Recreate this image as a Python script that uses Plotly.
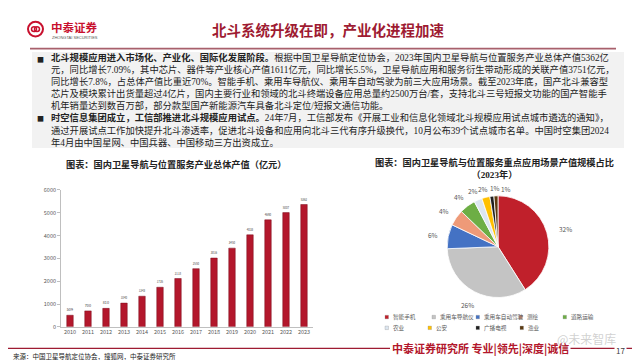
import math
import plotly.graph_objects as go

W, H = 640, 360
def px(x): return x / W
def py(y): return 1 - y / H

FONT = "Noto Sans CJK SC"
BODY_FONT = "Liberation Serif, Noto Sans CJK SC"

# ---------------- data ----------------
years = ["2010", "2011", "2012", "2013", "2014", "2015", "2016",
         "2017", "2018", "2019", "2020", "2021", "2022", "2023"]
output_value = [509, 700, 810, 1040, 1343, 1735, 2118,
                2550, 3016, 3450, 4033, 4690, 5007, 5362]

scenes = ["智能手机", "乘用车导航仪", "乘用车自动驾驶", "测绘", "道路运输",
          "农业", "公安", "广播电视", "渔业"]
scene_share = [32, 26, 6, 4, 4, 2, 2, 1, 1]
scene_colors = ["#C0202B", "#C4C4C4", "#4472C4", "#EE9A78", "#6DAE45",
                "#DCE6F0", "#FFC000", "#1F1F1F", "#5C3A10"]

title = "北斗系统升级在即，产业化进程加速"
body_lines = [
    "<b>北斗规模应用进入市场化、产业化、国际化发展阶段。</b>根据中国卫星导航定位协会，2023年国内卫星导航与位置服务产业总体产值5362亿",
    "元，同比增长7.09%，其中芯片、器件等产业核心产值1611亿元，同比增长5.5%，卫星导航应用和服务衍生带动形成的关联产值3751亿元，",
    "同比增长7.8%，占总体产值比重近70%。智能手机、乘用车导航仪、乘用车自动驾驶为前三大应用场景。截至2023年底，国产北斗兼容型",
    "芯片及模块累计出货量超过4亿片，国内主要行业和领域的北斗终端设备应用总量约2500万台/套，支持北斗三号短报文功能的国产智能手",
    "机年销量达到数百万部，部分款型国产新能源汽车具备北斗定位/短报文通信功能。",
    "<b>时空信息集团成立，工信部推进北斗规模应用试点。</b>24年7月，工信部发布《开展工业和信息化领域北斗规模应用试点城市遴选的通知》，",
    "通过开展试点工作加快提升北斗渗透率，促进北斗设备和应用向北斗三代有序升级换代，10月公布39个试点城市名单。中国时空集团2024",
    "年4月由中国星网、中国兵器、中国移动三方出资成立。",
]
bullet_rows = [0, 5]
bar_title = "图表：国内卫星导航与位置服务产业总体产值（亿元）"
pie_title = "图表：国内卫星导航与位置服务重点应用场景产值规模占比<br>（2023年）"
source = "来源：中国卫星导航定位协会，搜狐网，中泰证券研究所"
footer = "中泰证券研究所 专业|领先|深度|诚信"

# ---------------- figure ----------------
fig = go.Figure()

fig.add_trace(go.Bar(
    x=years, y=output_value,
    marker=dict(color="#B3172C", line=dict(color="#7A0F1E", width=0.5)),
    text=[str(v) for v in output_value], textposition="outside",
    textfont=dict(size=6.5, color="#404040", family=FONT),
    cliponaxis=False, showlegend=False, hoverinfo="x+y",
    xaxis="x", yaxis="y",
))

# pie geometry (pixels)
PCX, PCY, PR = 490, 240, 52
fig.add_trace(go.Pie(
    labels=scenes, values=scene_share, sort=False, direction="clockwise",
    rotation=0, marker=dict(colors=scene_colors, line=dict(color="white", width=0.8)),
    textinfo="none",
    domain=dict(x=[px(PCX - PR), px(PCX + PR)], y=[py(PCY + PR), py(PCY - PR)]),
    showlegend=False,
))

shapes = []
annos = []

# pie value labels, placed outside each slice at its mid-angle
total = sum(scene_share)
cum = 0
labpos = []
for v in scene_share:
    mid = (cum + v / 2) / total * 2 * math.pi
    cum += v
    s, c = math.sin(mid), math.cos(mid)
    r = PR + 5 + 13 * abs(s) * (v / total > 0.3) + 9 * abs(s) * (v / total <= 0.3) + 3 * abs(c)
    labpos.append([PCX + r * s, PCY - r * c, c])
top = sorted([i for i, p in enumerate(labpos) if p[2] > 0.93], key=lambda i: labpos[i][0])
for a, b in zip(top, top[1:]):
    if labpos[b][0] < labpos[a][0] + 11.5:
        labpos[b][0] = labpos[a][0] + 11.5
for (lx, ly, _), v in zip(labpos, scene_share):
    annos.append(dict(text=f"{v}%", x=px(lx), y=py(ly + 1), xanchor="center", yanchor="middle",
                      font=dict(size=6.5, color="#595959", family=FONT)))

# header logo
shapes.append(dict(type="circle", xref="paper", yref="paper",
                   x0=px(20), x1=px(35), y0=py(25), y1=py(10),
                   line=dict(color="#C8102E", width=2)))
shapes.append(dict(type="circle", xref="paper", yref="paper",
                   x0=px(23.5), x1=px(28.5), y0=py(20), y1=py(15),
                   line=dict(color="#C8102E", width=1.5)))
shapes.append(dict(type="circle", xref="paper", yref="paper",
                   x0=px(26.5), x1=px(31.5), y0=py(20), y1=py(15),
                   line=dict(color="#C8102E", width=1.5)))
annos.append(dict(text="<b>中泰证券</b>", x=px(41), y=py(15), xanchor="left", yanchor="middle",
                  font=dict(size=11.5, color="#C8102E", family=FONT)))
annos.append(dict(text="ZHONGTAI SECURITIES", x=px(42), y=py(26.5), xanchor="left", yanchor="middle",
                  font=dict(size=4, color="#555555", family="Liberation Sans")))
# title
annos.append(dict(text="<b>" + title + "</b>", x=px(320), y=py(18), xanchor="center", yanchor="middle",
                  font=dict(size=14.5, color="#9E1B32", family=FONT)))
shapes.append(dict(type="line", xref="paper", yref="paper",
                   x0=px(22), x1=px(608), y0=py(37.5), y1=py(37.5),
                   line=dict(color="#A8606C", width=1.6)))
# text box (one multi-line text block)
shapes.append(dict(type="rect", xref="paper", yref="paper", layer="below",
                   x0=px(24), x1=px(616), y0=py(139), y1=py(41),
                   fillcolor="#F2F2F2", line=dict(width=0)))
BODY_FS = 9.3
line_h = BODY_FS * 1.3
annos.append(dict(text="<br>".join(body_lines), x=px(42), y=py(48 + line_h * 3.5),
                  xanchor="left", yanchor="middle", align="left", borderpad=0,
                  font=dict(size=BODY_FS, color="#222222", family=BODY_FONT)))
for i in bullet_rows:
    annos.append(dict(text="■", x=px(32), y=py(48 + line_h * i), xanchor="center", yanchor="middle",
                      borderpad=0, font=dict(size=7, color="#222222", family=FONT)))

# chart titles
annos.append(dict(text="<b>" + bar_title + "</b>", x=px(168), y=py(155.5), xanchor="center", yanchor="middle",
                  font=dict(size=9.2, color="#222222", family=FONT)))
annos.append(dict(text="<b>" + pie_title + "</b>", x=px(486), y=py(160.5), xanchor="center", yanchor="middle",
                  font=dict(size=9.2, color="#222222", family=BODY_FONT)))

# manual pie legend
leg_pos = [(377, 312), (424, 312), (468, 312), (511, 312), (555, 312),
           (377, 323), (420, 323), (468, 323), (512, 323)]
for (lx, ly), name, col in zip(leg_pos, scenes, scene_colors):
    shapes.append(dict(type="rect", xref="paper", yref="paper",
                       x0=px(lx), x1=px(lx + 3.5), y0=py(ly + 1.8), y1=py(ly - 1.8),
                       fillcolor=col, line=dict(width=0.3, color="#888888")))
    annos.append(dict(text=name, x=px(lx + 5.5), y=py(ly), xanchor="left", yanchor="middle",
                      font=dict(size=5.6, color="#595959", family=FONT)))

# footer
shapes.append(dict(type="line", xref="paper", yref="paper",
                   x0=0, x1=px(382), y0=py(344), y1=py(344),
                   line=dict(color="#9E1B32", width=1.2)))
shapes.append(dict(type="line", xref="paper", yref="paper",
                   x0=px(562), x1=1, y0=py(344), y1=py(344),
                   line=dict(color="#9E1B32", width=1.2)))
annos.append(dict(text="<b>" + footer + "</b>", x=px(472), y=py(344), xanchor="center", yanchor="middle",
                  font=dict(size=11, color="#B3172C", family=FONT), bgcolor="white"))
annos.append(dict(text="17", x=px(612), y=py(346), xanchor="center", yanchor="middle",
                  font=dict(size=8, color="#404040", family=FONT), bgcolor="white"))
annos.append(dict(text="@未来智库", x=px(578), y=py(334), xanchor="center", yanchor="middle",
                  font=dict(size=12, color="rgba(170,170,170,0.55)", family=FONT)))
annos.append(dict(text=source, x=px(3), y=py(351.5), xanchor="left", yanchor="middle",
                  font=dict(size=6.5, color="#222222", family=FONT)))

for a in annos:
    a.setdefault("xref", "paper")
    a.setdefault("yref", "paper")
    a.setdefault("showarrow", False)

fig.update_layout(
    width=W, height=H,
    margin=dict(l=0, r=0, t=0, b=0),
    paper_bgcolor="white", plot_bgcolor="white",
    font=dict(family=FONT),
    bargap=0.64,
    xaxis=dict(domain=[px(53), px(305)], type="category",
               showline=True, linecolor="#BFBFBF", linewidth=0.8,
               ticks="", tickfont=dict(size=5.5, color="#595959"),
               showgrid=False, zeroline=False, fixedrange=True),
    yaxis=dict(domain=[py(322), py(182)], range=[0, 6000], dtick=1000,
               showline=True, linecolor="#BFBFBF", linewidth=0.8,
               ticks="outside", ticklen=3, tickcolor="#BFBFBF",
               tickfont=dict(size=5.5, color="#595959"),
               showgrid=False, zeroline=False, fixedrange=True),
    shapes=shapes, annotations=annos,
)

fig.write_html("out.html")
